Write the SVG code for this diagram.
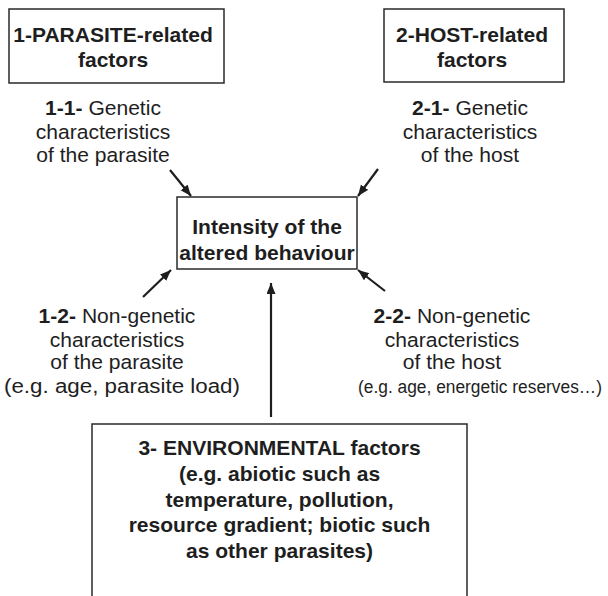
<svg xmlns="http://www.w3.org/2000/svg" width="608" height="596" viewBox="0 0 608 596">
<style>
.box{fill:#fff;stroke:#2a2a2a;stroke-width:1.5}
text{font-family:"Liberation Sans",Arial,sans-serif;font-size:19.5px;fill:#1e1e1e;text-anchor:middle}
.b{font-weight:bold}
.conn line{stroke:#1e1e1e;stroke-width:2.2}
</style>
<defs>
<marker id="ah" markerUnits="userSpaceOnUse" markerWidth="12" markerHeight="10" refX="11" refY="4.5" orient="auto">
<path d="M0,0 L11,4.5 L0,9 z" fill="#1e1e1e"/>
</marker>
</defs>
<rect width="608" height="596" fill="#fff"/>
<g id="parasite-factors">
<rect class="box" x="9" y="9" width="215" height="74"/>
<text class="b" transform="translate(113,0) scale(1.08,1)"><tspan x="0" y="42">1-PARASITE-related</tspan><tspan x="0" y="67">factors</tspan></text>
</g>
<g id="host-factors">
<rect class="box" x="384" y="9" width="180" height="73"/>
<text class="b" transform="translate(472,0) scale(1.08,1)"><tspan x="0" y="42">2-HOST-related</tspan><tspan x="0" y="67">factors</tspan></text>
</g>
<g id="intensity">
<rect class="box" x="177" y="197" width="180" height="72"/>
<text class="b" transform="translate(267,0) scale(1.08,1)"><tspan x="0" y="234">Intensity of the</tspan><tspan x="0" y="260">altered behaviour</tspan></text>
</g>
<g id="p-genetic">
<text transform="translate(103,0) scale(1.08,1)"><tspan x="0" y="115"><tspan class="b">1-1-</tspan> Genetic</tspan><tspan x="0" y="139">characteristics</tspan><tspan x="0" y="162">of the parasite</tspan></text>
</g>
<g id="h-genetic">
<text transform="translate(470,0) scale(1.08,1)"><tspan x="0" y="115"><tspan class="b">2-1-</tspan> Genetic</tspan><tspan x="0" y="139">characteristics</tspan><tspan x="0" y="162">of the host</tspan></text>
</g>
<g id="p-nongenetic">
<text transform="translate(117,0) scale(1.08,1)"><tspan x="0" y="323"><tspan class="b">1-2-</tspan> Non-genetic</tspan><tspan x="0" y="347">characteristics</tspan><tspan x="0" y="369">of the parasite</tspan></text>
<text x="122" y="393" textLength="236" lengthAdjust="spacingAndGlyphs">(e.g. age, parasite load)</text>
</g>
<g id="h-nongenetic">
<text transform="translate(452,0) scale(1.08,1)"><tspan x="0" y="323"><tspan class="b">2-2-</tspan> Non-genetic</tspan><tspan x="0" y="347">characteristics</tspan><tspan x="0" y="369">of the host</tspan></text>
<text x="480" y="393" style="font-size:17.6px" textLength="244" lengthAdjust="spacingAndGlyphs">(e.g. age, energetic reserves…)</text>
</g>
<g id="environmental">
<rect class="box" x="92" y="424" width="375" height="190"/>
<text class="b" transform="translate(279.5,0) scale(1.08,1)"><tspan x="0" y="455">3- ENVIRONMENTAL factors</tspan><tspan x="0" y="481">(e.g. abiotic such as</tspan><tspan x="0" y="507">temperature, pollution,</tspan><tspan x="0" y="532">resource gradient; biotic such</tspan><tspan x="0" y="558">as other parasites)</tspan></text>
</g>
<g id="connectors" class="conn">
<line x1="170" y1="170" x2="191" y2="196" marker-end="url(#ah)"/>
<line x1="378" y1="169" x2="358" y2="196" marker-end="url(#ah)"/>
<line x1="143" y1="297" x2="171" y2="270" marker-end="url(#ah)"/>
<line x1="385" y1="291" x2="358" y2="270" marker-end="url(#ah)"/>
<line x1="271" y1="417" x2="271" y2="283" marker-end="url(#ah)"/>
</g>
</svg>
